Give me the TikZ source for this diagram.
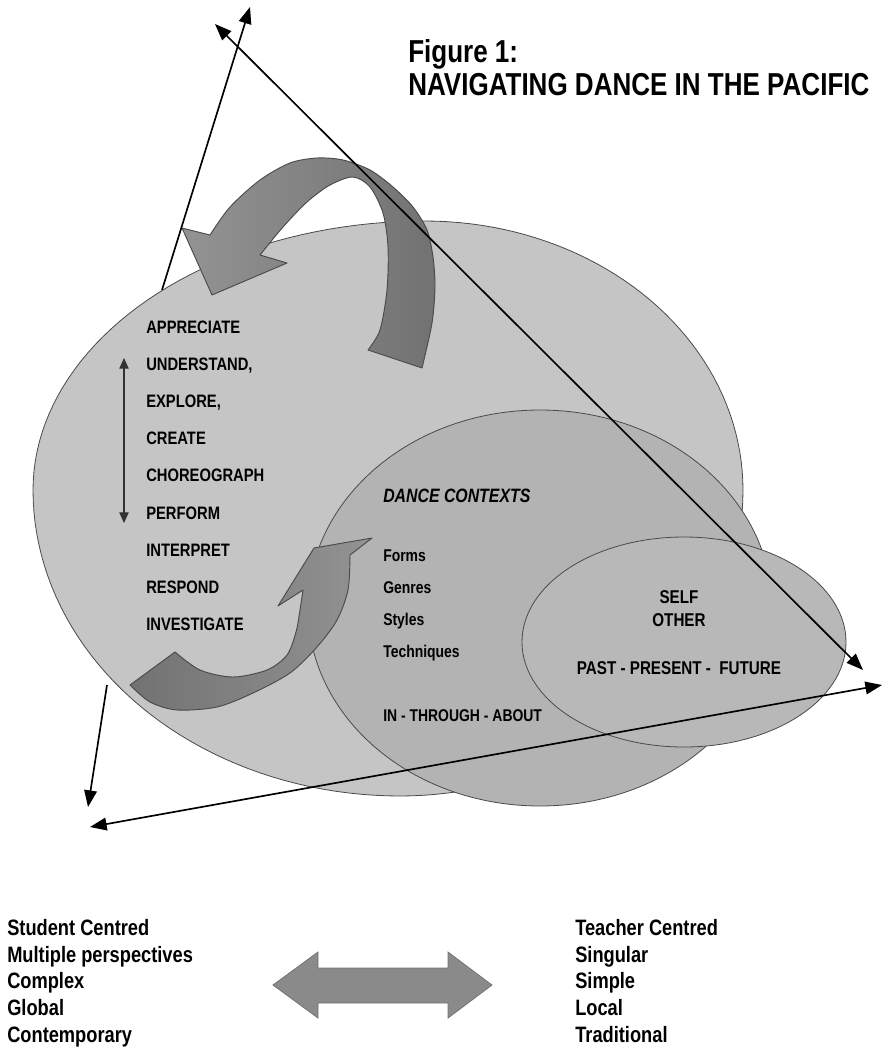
\documentclass[tikz,border=0pt]{standalone}
\usepackage{fontspec}
\setmainfont{Liberation Sans}[FakeStretch=0.82]
\usetikzlibrary{arrows.meta}
\definecolor{bigfill}{HTML}{C5C5C5}
\definecolor{midfill}{HTML}{B3B3B3}
\definecolor{smallfill}{HTML}{B8B8B8}
\definecolor{edgecol}{HTML}{4A4A4A}
\definecolor{arrowdark}{HTML}{727272}
\definecolor{arrowlight}{HTML}{939393}
\definecolor{blockfill}{HTML}{8A8A8A}
\tikzset{ltip/.tip={Triangle[length=12.5pt,width=9.5pt]},
         stip/.tip={Triangle[length=8pt,width=7pt]}}
\begin{document}
\begin{tikzpicture}[x=0.75pt,y=-0.75pt,
  blob/.style={draw=edgecol, line width=0.6pt},
  bent/.style={draw=edgecol, line width=0.7pt, line join=round},
  ln/.style={draw=black, line width=1.25pt},
  title/.style={anchor=base west, inner sep=0pt, align=left, font=\fontsize{23.8}{24.75}\selectfont\bfseries},
  lst/.style={anchor=base west, inner sep=0pt, font=\fontsize{13.5}{16}\selectfont\bfseries},
  ctx/.style={anchor=base west, inner sep=0pt, font=\fontsize{12.75}{15}\selectfont\bfseries},
  selfs/.style={anchor=base, inner sep=0pt, font=\fontsize{13.9}{16}\selectfont\bfseries},
  pole/.style={anchor=base west, inner sep=0pt, align=left, font=\fontsize{16.7}{20}\selectfont\bfseries}
]
\useasboundingbox (0,0) rectangle (883,1047);

% big ellipse (slightly bulging to the upper right)
\path[blob, fill=bigfill]
  plot[domain=180:270, samples=45] ({425+392*cos(\x)},{490+269*sin(\x)})
  -- plot[domain=270:360, samples=45] ({425+318*cos(\x)},{490+269*sin(\x)})
  -- plot[domain=0:90, samples=45] ({400+343*cos(\x)},{490+306*sin(\x)})
  -- plot[domain=90:180, samples=45] ({400+367*cos(\x)},{490+306*sin(\x)})
  -- cycle;
\path[blob, fill=midfill] (540,608) ellipse [x radius=232, y radius=198];
\path[blob, fill=smallfill] (684,642) ellipse [x radius=162, y radius=105];

% upper curved arrow
\path[bent, left color=arrowlight, right color=arrowdark]
  (212,295) -- (182,228) -- (210,235)
  -- plot[smooth] coordinates {(210,235) (230,207) (260,180) (290,163) (317,158) (343,160) (370,170) (393,187) (413,207) (427,230) (433,257) (435,287) (432,323) (422,368)}
  -- (368,350)
  -- plot[smooth] coordinates {(368,350) (380,330) (387,290) (388,247) (383,213) (370,187) (353,177) (330,185) (307,202) (283,227) (260,255)}
  -- (287,263) -- cycle;

% lower curved arrow
\path[bent, left color=arrowdark, right color=arrowlight]
  (130,685)
  -- plot[smooth] coordinates {(130,685) (150,702) (177,710) (217,707) (253,693) (290,673) (317,647) (337,620) (348,590) (350,555)}
  -- (372,538) -- (314,548) -- (278,606) -- (303,590)
  -- plot[smooth] coordinates {(303,590) (300,610) (296,632) (287,655) (267,670) (233,677) (200,670) (175,652)}
  -- cycle;

% title (base anchor = baseline of the last line)
\node[title] (title) at (408,95) {Figure 1:\\NAVIGATING DANCE IN THE PACIFIC};

% left list
\node[lst] (l1) at (146,333) {APPRECIATE};
\node[lst] (l2) at (146,370) {UNDERSTAND,};
\node[lst] (l3) at (146,407) {EXPLORE,};
\node[lst] (l4) at (146,444) {CREATE};
\node[lst] (l5) at (146,481) {CHOREOGRAPH};
\node[lst] (l6) at (146,519) {PERFORM};
\node[lst] (l7) at (146,556) {INTERPRET};
\node[lst] (l8) at (146,593) {RESPOND};
\node[lst] (l9) at (146,630) {INVESTIGATE};

% vertical double arrow
\coordinate (vTop) at (124,358);
\coordinate (vBot) at (124,523);
\draw[draw=black!80, line width=0.8pt, {stip}-{stip}] (vTop) -- (vBot);

% dance contexts
\node[ctx, font=\fontsize{14.5}{16}\selectfont\bfseries\itshape] (dc) at (383,502) {DANCE CONTEXTS};
\node[ctx] (c1) at (383,561) {Forms};
\node[ctx] (c2) at (383,593) {Genres};
\node[ctx] (c3) at (383,625) {Styles};
\node[ctx] (c4) at (383,657) {Techniques};
\node[ctx] (c5) at (383,721) {IN - THROUGH - ABOUT};

% self / other
\node[selfs] (s1) at (679,603) {SELF};
\node[selfs] (s2) at (679,626) {OTHER};
\node[selfs] (s3) at (679,674) {PAST - PRESENT -\ \ FUTURE};

% outer lines
\coordinate (aS) at (162,290);
\coordinate (aE) at (250,7);
\coordinate (bS) at (215,24);
\coordinate (bE) at (863,670);
\coordinate (cS) at (882,685);
\coordinate (cE) at (90,827);
\coordinate (dS) at (107,685);
\coordinate (dE) at (88,807);
\draw[ln, -{ltip}] (aS) -- (aE);
\draw[ln, {ltip}-{ltip}] (bS) -- (bE);
\draw[ln, {ltip}-{ltip}] (cS) -- (cE);
\draw[ln, -{ltip}] (dS) -- (dE);

% bottom poles (base anchor = baseline of the last line)
\node[pole] (left) at (7,1042) {Student Centred\\Multiple perspectives\\Complex\\Global\\Contemporary};
\node[pole] (right) at (575,1042) {Teacher Centred\\Singular\\Simple\\Local\\Traditional};
\path[draw=black!55, line width=0.6pt, fill=blockfill]
  (273,985) -- (318,952) -- (318,968) -- (448,968) -- (448,952) -- (492,985)
  -- (448,1018) -- (448,1003) -- (318,1003) -- (318,1018) -- cycle;
\end{tikzpicture}
\end{document}
